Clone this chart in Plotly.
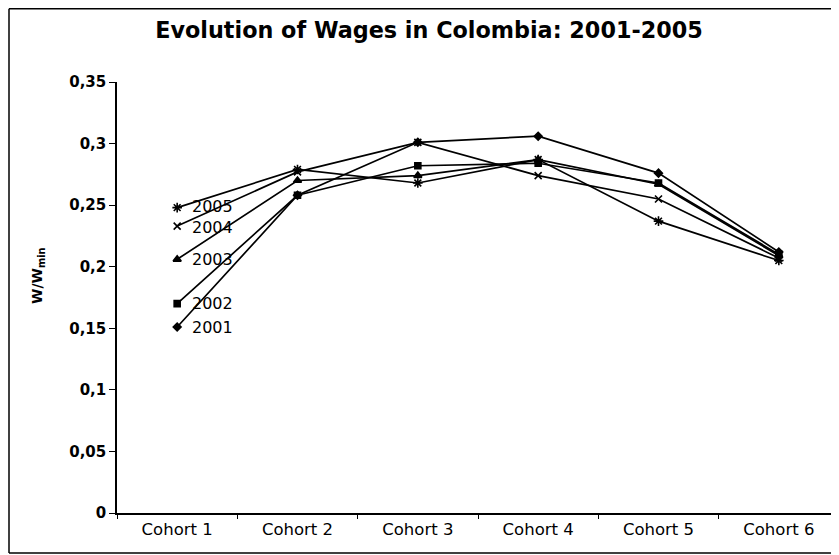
import plotly.graph_objects as go

cohorts = ["Cohort 1", "Cohort 2", "Cohort 3", "Cohort 4", "Cohort 5", "Cohort 6"]
years = ["2001", "2002", "2003", "2004", "2005"]
w2001 = [0.151, 0.258, 0.301, 0.306, 0.276, 0.212]
w2002 = [0.170, 0.258, 0.282, 0.284, 0.268, 0.210]
w2003 = [0.206, 0.270, 0.274, 0.287, 0.267, 0.209]
w2004 = [0.233, 0.277, 0.301, 0.274, 0.255, 0.207]
w2005 = [0.248, 0.279, 0.268, 0.287, 0.237, 0.205]
series = [w2001, w2002, w2003, w2004, w2005]
symbols = ["diamond", "square", "triangle-up", "x-thin-open", "asterisk-open"]
sizes = [6, 6, 7, 7, 8]
label_shift = [0, 0, 0, -1, 1]
ytickvals = [0, 0.05, 0.1, 0.15, 0.2, 0.25, 0.3, 0.35]
yticktext = ["0", "0,05", "0,1", "0,15", "0,2", "0,25", "0,3", "0,35"]

# the page body adds an 8px offset; figure coordinates are screen - 8
OFF = 8
W, H = 839 - OFF, 555 - OFF
L, R, T = 117 - OFF, 0, 82 - OFF
bottom = 513 - OFF
B = H - bottom
pw, ph = W - L - R, H - T - B

fig = go.Figure()
for yr, vals, sym, sz, ys in zip(years, series, symbols, sizes, label_shift):
    fig.add_trace(go.Scatter(
        x=cohorts, y=vals, mode="lines+markers", name=yr,
        line=dict(color="black", width=1.7),
        marker=dict(symbol=sym, size=sz, color="black",
                    line=dict(color="black", width=1.6)),
        showlegend=False, cliponaxis=False,
    ))
    fig.add_annotation(x=cohorts[0], y=vals[0], text=yr, showarrow=False,
                       xanchor="left", yanchor="middle", xshift=13, yshift=ys,
                       font=dict(family="DejaVu Sans", size=16, color="black"))

fig.add_annotation(xref="paper", yref="paper",
                   x=(38 - OFF - L) / pw, y=(bottom - (276 - OFF)) / ph,
                   xanchor="center", yanchor="middle",
                   text="W/W<sub>min</sub>", textangle=-90, showarrow=False,
                   font=dict(family="DejaVu Sans", size=14, color="black", weight="bold"))

# chart-area frame: left, top and bottom edges (right edge falls outside the picture)
fx0 = (9 - OFF - L) / pw
fx1 = 0.999
fy0 = (bottom - (553 - OFF)) / ph
fy1 = (bottom - 0.8) / ph
frame = dict(color="black", width=1.5)
fig.add_shape(type="line", xref="paper", yref="paper", x0=fx0, x1=fx0, y0=fy0, y1=fy1, line=frame)
fig.add_shape(type="line", xref="paper", yref="paper", x0=fx0, x1=fx1, y0=fy1, y1=fy1, line=frame)
fig.add_shape(type="line", xref="paper", yref="paper", x0=fx0, x1=fx1, y0=fy0, y1=fy0, line=frame)

fig.update_layout(
    width=W, height=H,
    margin=dict(l=L, r=R, t=T, b=B),
    paper_bgcolor="white", plot_bgcolor="white",
    title=dict(text="Evolution of Wages in Colombia: 2001-2005",
               x=(429 - OFF) / W, xanchor="center", y=1 - (30 - OFF) / H, yanchor="middle",
               font=dict(family="DejaVu Sans", size=22.3, color="black", weight="bold")),
    xaxis=dict(type="category", categoryorder="array", categoryarray=cohorts,
               range=[-0.5, 5.5], tickson="boundaries", ticks="outside", ticklen=4,
               tickcolor="black", showline=True, linecolor="black", linewidth=1.5,
               showgrid=False, zeroline=False,
               tickfont=dict(family="DejaVu Sans", size=16.5, color="black")),
    yaxis=dict(range=[0, 0.35], tickvals=ytickvals, ticktext=yticktext,
               ticks="outside", ticklen=6, tickcolor="black",
               showline=True, linecolor="black", linewidth=1.5,
               showgrid=False, zeroline=False,
               tickfont=dict(family="DejaVu Sans", size=15, color="black", weight="bold")),
)

fig.write_html("out.html")
